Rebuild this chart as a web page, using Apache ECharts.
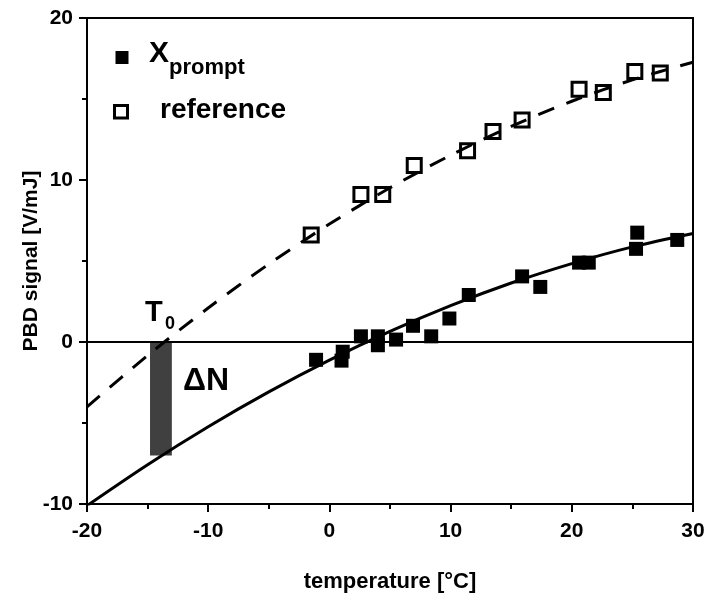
<!DOCTYPE html>
<html>
<head>
<meta charset="utf-8">
<script src="https://cdn.jsdelivr.net/npm/echarts@6/dist/echarts.min.js"></script>
<style>
html,body{margin:0;padding:0;background:#fff;}
#chart{width:704px;height:593px;}
</style>
</head>
<body>
<div id="chart"></div>
<script>
// Measured data: X_prompt (filled squares)
var promptT = [-1.1, 1.0, 1.1, 2.6, 4.0, 4.0, 5.5, 6.9, 8.4, 9.9, 11.5, 15.9, 17.4, 20.6, 21.4, 25.3, 25.4, 28.7];
var promptV = [-1.1, -1.15, -0.6, 0.35, 0.35, -0.2, 0.15, 1.0, 0.35, 1.45, 2.9, 4.05, 3.4, 4.9, 4.9, 5.75, 6.75, 6.3];
// Measured data: reference (open squares)
var refT = [-1.5, 2.6, 4.4, 7.0, 11.4, 13.5, 15.9, 20.6, 22.6, 25.2, 27.3];
var refV = [6.6, 9.1, 9.1, 10.9, 11.8, 13.0, 13.7, 15.6, 15.4, 16.7, 16.6];
// Fit curves
var fitT = [-20, -15, -10, -5, 0, 5, 10, 15, 20, 25, 30];
var promptFit = [-10.1, -7.57, -5.23, -3.08, -1.12, 0.65, 2.24, 3.64, 4.84, 5.87, 6.7];
var refFit = [-4.0, -0.83, 2.10, 4.81, 7.28, 9.52, 11.53, 13.31, 14.86, 16.18, 17.27];
// Delta N band (temperature range, signal range)
var bandT = [-14.8, -13.0];
var bandV = [0, -7.0];
// Axis ticks
var xTicks = [-20, -10, 0, 10, 20, 30];
var yTicks = [-10, 0, 10, 20];

function zip(a, b) { return a.map(function (v, i) { return [v, b[i]]; }); }

var FONT = "'Liberation Sans', Arial, sans-serif";
var chart = echarts.init(document.getElementById('chart'), null, {renderer: 'canvas'});

var axisCommon = {
  axisLine: {show: true, onZero: false, lineStyle: {color: '#000', width: 2}},
  axisTick: {show: true, inside: false, length: 8, lineStyle: {color: '#000', width: 2}},
  minorTick: {show: true, splitNumber: 2, length: 5, lineStyle: {color: '#000', width: 2}},
  splitLine: {show: false},
  minorSplitLine: {show: false},
  nameMoveOverlap: false
};

chart.setOption({
  animation: false,
  backgroundColor: '#fff',
  grid: {left: 87, right: 11, top: 18, bottom: 89, outerBoundsMode: 'none', containLabel: false,
    show: true, borderColor: '#000', borderWidth: 2, backgroundColor: 'transparent'},
  xAxis: Object.assign({
    type: 'value', min: xTicks[0], max: xTicks[xTicks.length - 1], interval: 10,
    axisLabel: {color: '#000', fontSize: 21, fontWeight: 'bold', fontFamily: FONT, margin: 17},
    name: 'temperature [°C]', nameLocation: 'middle', nameGap: 67,
    nameTextStyle: {color: '#000', fontSize: 22, fontWeight: 'bold', fontFamily: FONT}
  }, axisCommon),
  yAxis: Object.assign({
    type: 'value', min: yTicks[0], max: yTicks[yTicks.length - 1], interval: 10,
    axisLabel: {color: '#000', fontSize: 21, fontWeight: 'bold', fontFamily: FONT, margin: 14},
    name: 'PBD signal [V/mJ]', nameLocation: 'middle', nameGap: 45,
    nameTextStyle: {color: '#000', fontSize: 21, fontWeight: 'bold', fontFamily: FONT}
  }, axisCommon),
  series: [
    {
      name: 'refFit', type: 'line', data: zip(fitT, refFit), smooth: 0.3, showSymbol: false,
      lineStyle: {color: '#000', width: 3, type: [17, 13]}, silent: true
    },
    {
      name: 'promptFit', type: 'line', data: zip(fitT, promptFit), smooth: 0.3, showSymbol: false,
      lineStyle: {color: '#000', width: 3}, silent: true,
      markLine: {
        silent: true, symbol: 'none', label: {show: false},
        lineStyle: {color: '#000', width: 2, type: 'solid'},
        data: [{yAxis: 0}]
      }
    },
    {
      name: 'deltaN', type: 'custom',
      data: [[bandT[0], bandT[1], bandV[0], bandV[1]]],
      encode: {x: [0, 1], y: [2, 3]},
      renderItem: function (params, api) {
        var p0 = api.coord([api.value(0), api.value(2)]);
        var p1 = api.coord([api.value(1), api.value(3)]);
        return {type: 'rect', shape: {x: p0[0], y: p0[1], width: p1[0] - p0[0], height: p1[1] - p0[1]}, style: {fill: '#404040'}};
      }
    },
    {
      name: 'X_prompt', type: 'scatter', data: zip(promptT, promptV), symbol: 'rect', symbolSize: 14,
      itemStyle: {color: '#000', opacity: 1}
    },
    {
      name: 'reference', type: 'scatter', data: zip(refT, refV), symbol: 'rect', symbolSize: 14,
      itemStyle: {color: '#fff', borderColor: '#000', borderWidth: 3, opacity: 1}
    }
  ],
  graphic: [
    {type: 'rect', shape: {x: 115.5, y: 51, width: 13, height: 13}, style: {fill: '#000'}},
    {type: 'text', style: {x: 149, y: 54, text: 'X', font: 'bold 30px ' + FONT, fill: '#000', textVerticalAlign: 'middle'}},
    {type: 'text', style: {x: 169, y: 68, text: 'prompt', font: 'bold 22px ' + FONT, fill: '#000', textVerticalAlign: 'middle'}},
    {type: 'rect', shape: {x: 114.5, y: 105.5, width: 13, height: 12.5}, style: {fill: '#fff', stroke: '#000', lineWidth: 3}},
    {type: 'text', style: {x: 160, y: 110, text: 'reference', font: 'bold 28px ' + FONT, fill: '#000', textVerticalAlign: 'middle'}},
    {type: 'text', style: {x: 145, y: 313, text: 'T', font: 'bold 29px ' + FONT, fill: '#000', textVerticalAlign: 'middle'}},
    {type: 'text', style: {x: 165, y: 324, text: '0', font: 'bold 18px ' + FONT, fill: '#000', textVerticalAlign: 'middle'}},
    {type: 'text', style: {x: 183, y: 381, text: 'ΔN', font: 'bold 32px ' + FONT, fill: '#000', textVerticalAlign: 'middle'}}
  ]
});
</script>
</body>
</html>
